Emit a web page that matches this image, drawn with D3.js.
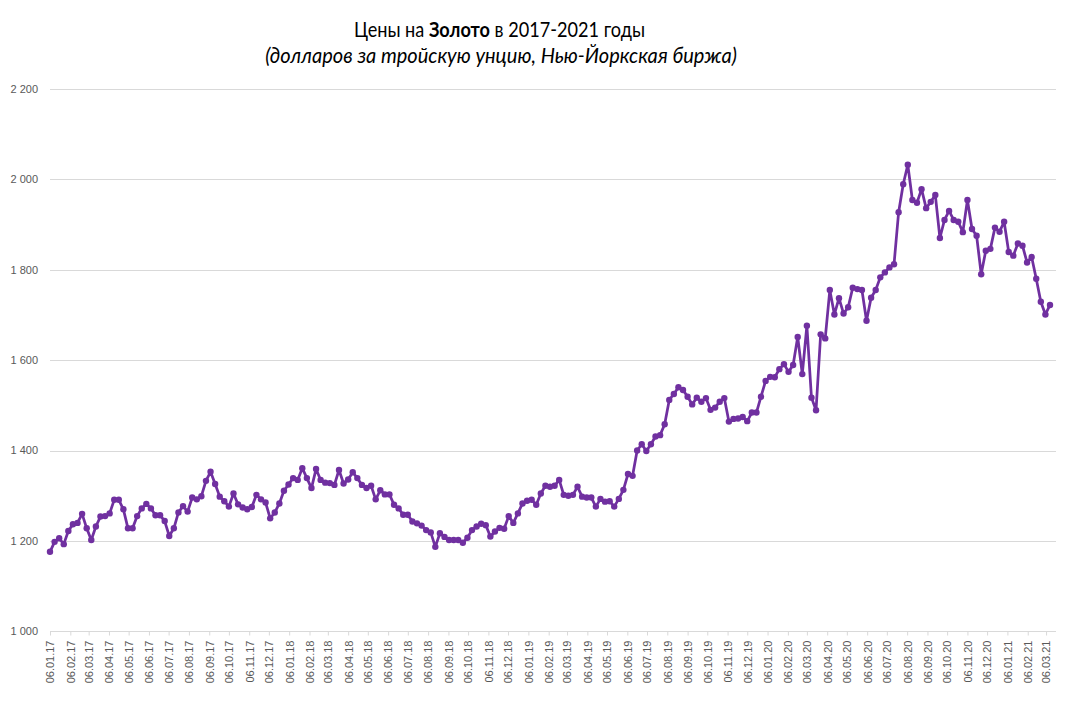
<!DOCTYPE html>
<html>
<head>
<meta charset="utf-8">
<script src="https://cdn.jsdelivr.net/npm/d3@7"></script>
<style>
  html, body { margin: 0; padding: 0; background: #fff; }
  svg { display: block; }
</style>
</head>
<body>
<svg id="chart" width="1078" height="701"></svg>
<script>
// ---- Data (weekly, Fridays, starting 06.01.2017) ----
const startDate = "2017-01-06";
const prices = [
  1176,1198,1206,1193,1222,1237,1240,1260,1228,1202,
  1232,1254,1255,1261,1291,1291,1270,1228,1228,1255,
  1272,1282,1272,1257,1257,1244,1211,1228,1263,1277,
  1265,1296,1292,1299,1333,1353,1326,1298,1288,1276,
  1305,1281,1274,1270,1275,1302,1292,1285,1250,1263,
  1283,1311,1325,1339,1335,1361,1339,1317,1359,1335,
  1329,1328,1324,1357,1327,1336,1352,1339,1324,1317,
  1322,1292,1312,1303,1303,1280,1272,1258,1258,1243,
  1239,1234,1224,1219,1187,1217,1209,1202,1202,1202,
  1196,1207,1224,1232,1238,1235,1210,1221,1229,1227,
  1255,1240,1261,1283,1289,1291,1280,1305,1322,1320,
  1322,1335,1302,1300,1302,1320,1298,1296,1296,1276,
  1293,1287,1288,1276,1293,1313,1348,1344,1400,1414,
  1399,1414,1431,1434,1458,1512,1525,1540,1534,1519,
  1502,1517,1508,1516,1490,1495,1508,1516,1464,1470,
  1471,1474,1465,1484,1484,1519,1554,1563,1562,1580,
  1591,1574,1589,1651,1569,1676,1517,1489,1657,1648,
  1755,1701,1737,1703,1717,1760,1757,1755,1687,1738,
  1755,1783,1794,1805,1812,1927,1989,2032,1954,1948,
  1978,1936,1950,1965,1870,1910,1930,1910,1906,1883,
  1954,1890,1875,1790,1842,1846,1893,1884,1906,1839,
  1831,1858,1853,1816,1828,1780,1729,1701,1722
];
const yTicks = [1000, 1200, 1400, 1600, 1800, 2000, 2200];
const xTickLabels = [];
for (let yr = 2017; yr <= 2021; yr++) {
  for (let m = 1; m <= 12; m++) {
    if (yr === 2021 && m > 3) break;
    xTickLabels.push("06." + String(m).padStart(2, "0") + "." + String(yr).slice(2));
  }
}
const titleMain = ["Цены на ", "Золото", " в 2017-2021 годы"];
const titleSub = "(долларов за тройскую унцию, Нью-Йоркская биржа)";

// ---- Build ----
(function () {
const parseDay = d3.timeParse("%Y-%m-%d");
const parseTick = d3.timeParse("%d.%m.%y");
const d0 = parseDay(startDate);
const data = prices.map((v, i) => ({ date: d3.timeDay.offset(d0, 7 * i), value: v }));
const tickDates = xTickLabels.map(parseTick);

const svg = d3.select("#chart");
const pL = 50, pR = 1050, pT = 88.8, pB = 631.4;

const x = d3.scaleTime()
  .domain([data[0].date, data[data.length - 1].date])
  .range([pL, pR]);
const y = d3.scaleLinear().domain([1000, 2200]).range([pB, pT]);

const fmt = v => d3.format(",")(v).replace(/,/g, " ");

// gridlines
svg.append("g").selectAll("line").data(yTicks.filter(t => t > 1000)).join("line")
  .attr("x1", pL).attr("x2", 1056)
  .attr("y1", d => Math.round(y(d)) + 0.5).attr("y2", d => Math.round(y(d)) + 0.5)
  .attr("stroke", "#d9d9d9").attr("stroke-width", 1);

// y labels
svg.append("g").selectAll("text").data(yTicks).join("text")
  .attr("x", 38).attr("y", d => y(d)).attr("dy", "0.35em")
  .attr("text-anchor", "end")
  .attr("font-family", "'Liberation Sans', Arial, sans-serif")
  .attr("font-size", 11).attr("fill", "#595959")
  .text(fmt);

// x axis
const xAxis = d3.axisBottom(x)
  .tickValues(tickDates)
  .tickFormat(d3.timeFormat("%d.%m.%y"))
  .tickSize(4)
  .tickSizeOuter(0);
const gx = svg.append("g")
  .attr("transform", `translate(0,${Math.round(pB) + 0.5})`)
  .call(xAxis);
gx.select(".domain").attr("stroke", "#d9d9d9").attr("d", `M${pL},0H1056`);
gx.selectAll(".tick line").attr("stroke", "#d9d9d9");
gx.selectAll(".tick text")
  .attr("font-family", "'Liberation Sans', Arial, sans-serif")
  .attr("font-size", 11).attr("fill", "#595959")
  .attr("transform", "rotate(-90)")
  .attr("text-anchor", "end")
  .attr("x", -9).attr("y", 0).attr("dy", "0.35em");

// line
const line = d3.line().x(d => x(d.date)).y(d => y(d.value));
svg.append("path").datum(data)
  .attr("d", line).attr("fill", "none")
  .attr("stroke", "#7030a0").attr("stroke-width", 2.75)
  .attr("stroke-linejoin", "round");
svg.append("g").selectAll("circle").data(data).join("circle")
  .attr("cx", d => x(d.date)).attr("cy", d => y(d.value))
  .attr("r", 3.2).attr("fill", "#7030a0");

// titles: fit each to the reference width by a horizontal scale
function fitWidth(g, textSel, cx, width) {
  const w = textSel.node().getBBox().width;
  const s = width / w;
  g.attr("transform", `translate(${cx},0) scale(${s},1)`);
}
const g1 = svg.append("g");
const t = g1.append("text")
  .attr("x", 0).attr("y", 37).attr("text-anchor", "middle")
  .attr("font-family", "Lato, 'Open Sans', sans-serif")
  .attr("font-size", 21).attr("fill", "#000");
t.append("tspan").text(titleMain[0]);
t.append("tspan").attr("font-weight", "bold").text(titleMain[1]);
t.append("tspan").text(titleMain[2]);
fitWidth(g1, t, 499.5, 291);

const g2 = svg.append("g");
const t2 = g2.append("text")
  .attr("x", 0).attr("y", 63).attr("text-anchor", "middle")
  .attr("font-family", "Lato, 'Open Sans', sans-serif")
  .attr("font-size", 21).attr("font-style", "italic").attr("fill", "#000")
  .text(titleSub);
fitWidth(g2, t2, 501, 472);
})();
</script>
</body>
</html>
